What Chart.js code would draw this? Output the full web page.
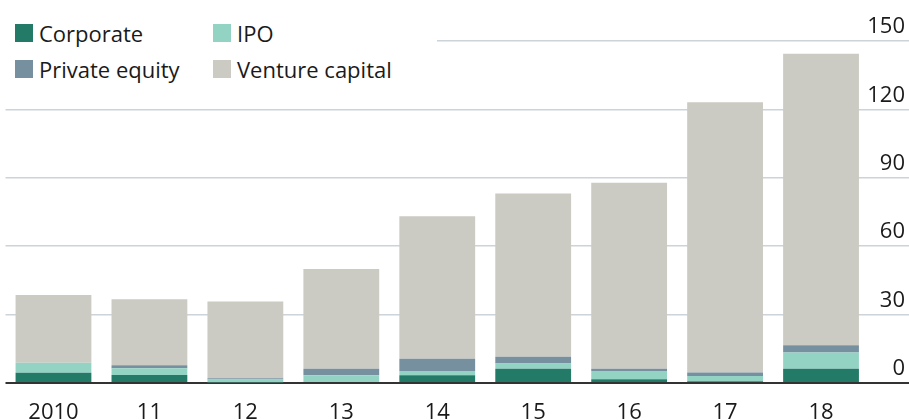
<!DOCTYPE html>
<html><head><meta charset="utf-8">
<script src="https://cdn.jsdelivr.net/npm/chart.js@4/dist/chart.umd.min.js"></script>
<style>
html,body{margin:0;padding:0;background:#fff;}
#wrap{position:relative;width:909px;height:420px;}
#legend{position:absolute;left:0;top:0;width:437px;height:90px;background:#fff;font-family:"Open Sans",sans-serif;font-size:22px;color:#1a1a1a;}
.item{position:absolute;display:flex;align-items:center;line-height:26px;white-space:nowrap;}
.sw{width:18px;height:18px;margin-right:6px;flex:none;}
</style></head>
<body><div id="wrap"><canvas id="c" width="909" height="420"></canvas><div id="legend"></div></div>
<script>
const years = ['2010','11','12','13','14','15','16','17','18'];
const corporate      = [4.5, 3.5, 0.3, 0.4, 3.4, 6.3, 1.6, 0.8, 6.3];
const ipo            = [4.4, 3.0, 1.2, 3.0, 1.9, 2.2, 3.7, 2.3, 7.1];
const privateEquity  = [0.0, 1.3, 0.6, 2.9, 5.3, 3.0, 1.0, 1.5, 3.2];
const ventureCapital = [29.7, 28.9, 33.6, 43.7, 62.5, 71.6, 81.5, 118.5, 127.8];
const yTicks = [0, 30, 60, 90, 120, 150];

const seriesNames = ['Corporate', 'IPO', 'Private equity', 'Venture capital'];
const seriesColors = ['#227a67', '#93d3c4', '#7690a0', '#cbcac3'];
const seriesData = [corporate, ipo, privateEquity, ventureCapital];

const datasets = seriesNames.map((n, i) => ({
  label: n, data: seriesData[i], backgroundColor: seriesColors[i],
  borderWidth: 0, categoryPercentage: 1, barPercentage: 0.79, stack: 's'
}));

const chart = new Chart(document.getElementById('c'), {
  type: 'bar',
  data: { labels: years, datasets },
  options: {
    responsive: false, animation: false,
    layout: { padding: { top: 41, left: 5.5, right: 0, bottom: 0 } },
    plugins: { legend: { display: false }, tooltip: { enabled: false } },
    scales: {
      x: {
        stacked: true,
        grid: { display: false }, border: { display: false },
        ticks: { color: '#1a1a1a', font: { family: 'Open Sans', size: 22 }, padding: 9, maxRotation: 0 },
        afterFit: s => { s.height = 37; }
      },
      y: {
        stacked: true, position: 'right', min: 0, max: 150,
        afterBuildTicks: s => { s.ticks = yTicks.map(v => ({ value: v })); },
        afterFit: s => { s.width = 40; s.paddingTop = 0; s.paddingBottom = 0; s.paddingLeft = 0; s.paddingRight = 0; },
        border: { display: false },
        grid: {
          color: c => c.tick && c.tick.value === 0 ? '#333333' : '#cdd4d9',
          lineWidth: c => c.tick && c.tick.value === 0 ? 2 : 1.5,
          tickLength: 40, drawTicks: true
        },
        ticks: {
          mirror: true, padding: 36, labelOffset: -14,
          color: '#1a1a1a', font: { family: 'Open Sans', size: 22 }
        }
      }
    }
  }
});

const leg = document.getElementById('legend');
const pos = [[15, 20], [213, 20], [15, 56], [213, 56]];
chart.data.datasets.forEach((d, i) => {
  const it = document.createElement('div');
  it.className = 'item';
  it.style.left = pos[i][0] + 'px';
  it.style.top = pos[i][1] + 'px';
  const sw = document.createElement('span');
  sw.className = 'sw';
  sw.style.background = d.backgroundColor;
  const t = document.createElement('span');
  t.textContent = d.label;
  it.appendChild(sw); it.appendChild(t);
  leg.appendChild(it);
});
</script>
</body></html>
